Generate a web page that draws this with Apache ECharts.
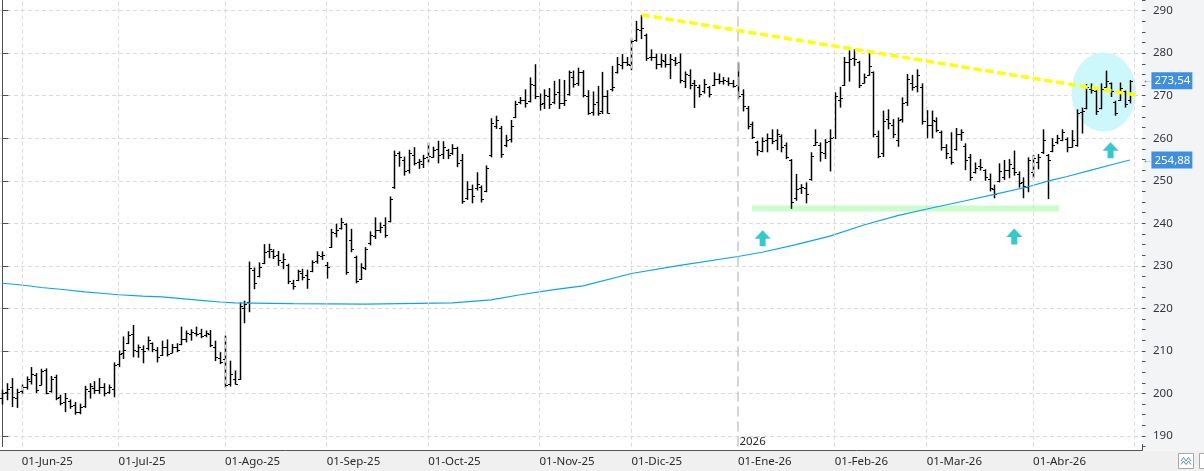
<!DOCTYPE html>
<html>
<head>
<meta charset="utf-8">
<script src="https://cdn.jsdelivr.net/npm/echarts@6/dist/echarts.min.js"></script>
<style>
  html, body { margin: 0; padding: 0; background: #fff; }
  #chart { width: 1204px; height: 471px; }
</style>
</head>
<body>
<div id="chart"></div>
<script>
// daily bars, one row per session: [open, high, low, close]
const may25 = [
  [199.0, 200.9, 197.4, 200.1], [200.3, 202.4, 198.4, 201.0], [201.5, 203.6, 196.8, 199.2], [199.0, 201.1, 196.6, 200.4]
];
const jun25 = [
  [200.5, 202.1, 199.9, 201.6], [201.6, 204.0, 200.9, 203.3], [203.0, 206.2, 202.1, 204.6], [204.4, 204.8, 200.1, 200.8],
  [202.0, 205.8, 201.9, 205.2], [205.4, 205.9, 199.8, 200.2], [200.5, 204.1, 200.2, 203.3], [203.8, 204.4, 198.4, 198.9],
  [199.2, 199.7, 197.2, 197.7], [197.9, 200.1, 195.6, 199.0], [198.3, 198.6, 196.4, 197.0], [197.2, 198.0, 195.0, 195.6],
  [195.6, 197.6, 195.1, 196.8], [197.0, 201.8, 196.6, 201.0], [200.6, 202.4, 198.8, 201.7], [201.3, 202.9, 199.9, 200.7],
  [200.7, 203.6, 199.9, 201.6], [201.5, 202.4, 199.3, 200.2], [200.4, 202.1, 199.9, 201.5], [201.0, 207.3, 199.1, 206.7]
];
const jul25 = [
  [207.0, 210.1, 206.2, 209.2], [209.5, 213.4, 208.1, 210.3], [211.8, 214.6, 211.6, 213.8], [213.9, 216.1, 208.5, 210.2],
  [210.0, 211.5, 208.4, 210.8], [210.5, 211.3, 207.1, 210.0], [210.6, 213.4, 210.1, 212.5], [211.8, 212.0, 209.7, 210.4],
  [210.2, 210.9, 207.3, 208.5], [209.0, 212.4, 208.8, 211.0], [210.8, 212.7, 208.7, 209.2], [209.6, 211.6, 209.5, 210.8],
  [210.9, 211.8, 209.7, 210.2], [211.6, 215.7, 211.3, 212.8], [212.9, 214.8, 212.0, 214.2], [214.0, 215.1, 212.4, 214.5],
  [214.3, 215.7, 213.4, 214.0], [214.1, 215.2, 213.0, 213.6], [213.8, 214.8, 213.2, 214.2], [214.0, 214.9, 210.9, 211.5],
  [211.0, 212.4, 207.6, 208.5], [208.3, 209.7, 206.9, 207.5]
];
const aug25 = [
  [208.0, 213.6, 201.3, 202.0], [202.3, 207.7, 201.6, 204.5], [203.5, 205.4, 202.1, 202.3], [203.5, 221.4, 203.2, 220.6],
  [220.0, 221.8, 216.5, 221.0], [221.5, 231.0, 219.1, 229.6], [229.0, 229.6, 224.5, 226.0], [227.5, 230.8, 227.3, 229.8],
  [230.6, 235.1, 230.4, 233.2], [233.5, 235.2, 231.8, 234.0], [233.6, 233.9, 231.6, 232.4], [232.5, 233.5, 230.0, 231.3],
  [231.0, 232.9, 229.2, 231.6], [230.2, 230.5, 225.7, 226.4], [226.0, 226.7, 224.4, 225.3], [226.6, 229.1, 226.4, 228.7],
  [228.2, 229.3, 226.6, 227.4], [227.8, 229.1, 224.6, 227.0], [228.8, 231.3, 228.5, 230.8], [231.2, 233.4, 230.5, 232.6],
  [232.3, 233.4, 231.4, 232.6]
];
const sep25 = [
  [230.2, 230.9, 227.0, 229.8], [234.5, 238.7, 234.2, 238.0], [237.8, 239.9, 236.7, 238.5], [239.0, 241.3, 238.5, 240.2],
  [239.8, 240.0, 227.9, 228.5], [236.0, 238.7, 233.2, 234.0], [232.0, 232.4, 225.9, 226.5], [227.0, 230.6, 226.7, 229.8],
  [229.5, 234.4, 229.0, 234.0], [235.3, 238.1, 234.8, 237.3], [237.0, 241.4, 236.3, 238.5], [238.5, 240.2, 237.7, 239.2],
  [239.5, 241.4, 236.6, 237.2], [240.5, 246.3, 240.2, 245.6], [248.5, 257.1, 248.1, 256.0], [256.5, 256.9, 253.3, 255.5],
  [254.8, 255.7, 251.2, 252.2], [252.5, 257.3, 251.7, 256.5], [256.0, 257.9, 253.6, 254.1], [254.3, 255.1, 252.8, 254.6],
  [254.0, 256.1, 253.0, 255.4]
];
const oct25 = [
  [255.5, 259.0, 254.3, 255.8], [255.6, 258.0, 255.4, 257.3], [257.5, 259.4, 254.1, 256.0], [256.3, 259.3, 255.1, 258.0],
  [257.2, 257.5, 255.1, 256.0], [256.5, 258.6, 256.1, 257.8], [257.7, 258.0, 253.2, 254.2], [255.0, 256.3, 244.6, 245.2],
  [246.0, 249.9, 245.5, 248.0], [248.0, 249.1, 244.7, 246.5], [248.2, 252.0, 247.7, 249.3], [248.5, 248.9, 244.9, 245.8],
  [247.5, 253.6, 247.3, 253.0], [256.0, 264.7, 255.5, 263.5], [262.8, 265.3, 262.2, 264.2], [262.5, 262.9, 255.4, 256.3],
  [258.5, 260.8, 257.9, 259.5], [259.8, 264.3, 259.0, 262.8], [265.0, 268.8, 264.7, 268.0], [268.5, 269.7, 268.0, 269.0],
  [269.0, 271.5, 267.2, 268.2], [268.8, 274.3, 268.4, 272.8], [272.5, 277.4, 269.2, 270.0]
];
const nov25 = [
  [270.0, 270.5, 266.5, 268.0], [268.3, 271.5, 266.9, 270.2], [270.0, 271.8, 266.9, 268.0], [268.5, 273.5, 268.0, 270.5],
  [270.8, 273.9, 266.9, 268.2], [268.4, 273.7, 267.6, 269.0], [270.5, 275.9, 270.0, 275.5], [274.5, 275.9, 271.9, 272.7],
  [273.0, 276.6, 272.3, 275.5], [275.5, 276.0, 269.6, 270.2], [270.0, 271.3, 265.5, 266.0], [266.2, 271.0, 265.3, 268.0],
  [268.5, 272.3, 265.3, 266.0], [266.3, 275.6, 265.7, 270.0], [270.0, 271.3, 265.8, 266.0], [271.5, 277.0, 271.0, 272.0],
  [275.5, 279.1, 275.2, 277.5], [277.2, 279.8, 276.2, 278.0], [278.0, 279.1, 277.0, 277.5]
];
const dec25 = [
  [277.2, 283.5, 276.0, 282.8], [283.0, 287.6, 282.7, 285.7], [285.5, 289.0, 283.3, 286.0], [284.3, 284.6, 278.2, 278.8],
  [279.0, 280.9, 278.2, 279.2], [279.0, 279.9, 276.2, 277.5], [277.5, 279.9, 276.6, 278.5], [278.2, 279.8, 276.6, 277.4],
  [277.5, 279.8, 273.9, 278.6], [278.5, 279.1, 277.0, 277.8], [278.0, 279.9, 272.9, 273.8], [273.5, 275.7, 271.8, 275.0],
  [274.8, 276.2, 271.5, 272.5], [273.0, 273.7, 267.1, 272.4], [272.0, 272.6, 269.6, 270.5], [271.0, 273.9, 270.5, 272.7],
  [272.0, 272.3, 269.6, 270.5], [272.6, 275.5, 272.3, 274.0], [274.0, 275.2, 272.7, 273.5], [273.4, 274.4, 272.6, 273.6],
  [273.5, 274.3, 272.3, 273.0], [273.0, 273.7, 271.9, 272.2]
];
const jan26 = [
  [272.5, 277.8, 269.2, 270.0], [270.5, 271.5, 266.3, 267.5], [267.0, 267.6, 262.1, 262.8], [263.3, 263.9, 259.8, 260.2],
  [259.0, 259.4, 255.9, 257.2], [257.0, 260.2, 256.7, 259.3], [259.5, 261.1, 256.7, 260.0], [260.0, 262.1, 258.6, 259.3],
  [259.5, 262.1, 257.2, 261.0], [260.5, 260.9, 256.7, 258.0], [258.3, 259.0, 255.1, 255.6], [254.8, 255.1, 243.4, 245.0],
  [246.0, 251.6, 245.3, 248.0], [248.3, 249.2, 246.9, 248.5], [248.2, 249.6, 244.7, 247.0], [250.5, 256.7, 250.0, 255.8],
  [258.3, 262.1, 258.2, 259.0], [258.5, 259.0, 254.5, 256.8], [256.5, 259.8, 255.1, 259.0], [259.3, 262.1, 252.2, 260.0]
];
const feb26 = [
  [260.2, 270.8, 259.8, 270.0], [269.0, 272.1, 267.2, 269.5], [272.6, 279.1, 272.3, 278.0], [278.0, 280.7, 273.3, 278.6],
  [278.8, 280.9, 277.0, 278.6], [278.0, 278.2, 271.8, 272.6], [273.0, 275.2, 272.9, 274.5], [274.9, 280.4, 274.7, 277.0],
  [275.5, 275.7, 260.2, 261.0], [260.5, 261.8, 255.3, 255.8], [256.5, 266.5, 255.6, 264.0], [264.5, 266.8, 262.1, 263.5],
  [263.0, 264.5, 260.0, 261.0], [259.5, 264.9, 258.0, 264.2], [264.5, 269.6, 263.7, 268.3], [268.5, 275.1, 267.6, 274.0],
  [273.0, 274.9, 271.2, 272.0], [272.3, 276.2, 270.8, 274.8], [272.0, 272.9, 263.2, 264.0]
];
const mar26 = [
  [264.0, 266.6, 260.0, 263.0], [263.2, 266.5, 260.0, 264.3], [264.0, 264.9, 261.4, 262.0], [261.4, 261.8, 257.1, 258.0],
  [258.0, 258.6, 255.1, 256.6], [255.6, 261.4, 253.8, 254.5], [257.5, 262.4, 257.1, 261.0], [261.0, 262.1, 259.4, 261.5],
  [258.2, 258.8, 252.5, 255.0], [255.5, 256.3, 250.0, 251.0], [252.0, 254.3, 251.7, 253.0], [253.5, 255.1, 252.4, 253.2],
  [252.5, 252.7, 250.0, 251.0], [250.5, 251.7, 247.5, 248.2], [248.0, 249.1, 245.9, 247.0], [250.0, 254.1, 249.6, 252.2],
  [251.0, 254.9, 250.2, 252.5], [252.5, 255.1, 250.6, 254.0], [253.0, 257.1, 251.2, 252.0], [251.5, 252.2, 248.4, 249.5],
  [249.8, 250.8, 245.9, 248.8], [248.5, 255.5, 247.3, 254.9]
];
const apr26 = [
  [252.0, 256.1, 250.6, 255.4], [254.5, 256.3, 252.7, 255.7], [256.8, 262.1, 256.3, 259.5], [256.0, 256.3, 245.7, 255.0],
  [257.0, 260.0, 256.7, 258.5], [259.0, 260.8, 258.6, 260.0], [259.5, 262.1, 259.3, 261.5], [259.8, 260.2, 256.7, 258.0],
  [258.0, 261.9, 257.8, 259.6], [258.5, 266.8, 258.0, 266.0], [266.2, 267.2, 261.1, 266.5], [267.0, 272.7, 266.8, 272.0],
  [271.5, 272.9, 270.5, 271.3], [271.0, 271.9, 265.5, 266.5], [267.0, 272.9, 266.8, 271.5], [272.0, 275.9, 271.9, 273.5],
  [273.0, 273.1, 269.7, 271.0], [268.5, 268.8, 265.3, 266.0], [269.0, 273.1, 268.8, 271.8], [271.0, 271.2, 267.2, 268.0],
  [269.0, 273.7, 268.2, 273.54]
];
const bars = [].concat(may25, jun25, jul25, aug25, sep25, oct25, nov25, dec25, jan26, feb26, mar26, apr26);

// month ticks (bar index of the first session) and their labels
const tickLabels = ['01-Jun-25', '01-Jul-25', '01-Ago-25', '01-Sep-25', '01-Oct-25', '01-Nov-25',
  '01-Dic-25', '01-Ene-26', '01-Feb-26', '01-Mar-26', '01-Abr-26', ''];
const tickIndex = [4, 24, 46, 67, 88, 111, 130, 152, 172, 191, 213, 234];
const yearIndex = 152;
const yearLabel = '2026';

// long moving average, read at some bars
const maIndex = [0, 4, 8, 12, 17, 21, 24, 29, 33, 37, 41, 45, 48, 60, 75, 93, 101, 107, 114, 120,
  130, 140, 152, 157, 164, 171, 178, 185, 192, 199, 205, 212, 216, 220, 225, 229, 233];
const maValue = [225.9, 225.5, 224.9, 224.5, 223.9, 223.5, 223.2, 222.9, 222.7, 222.3, 221.9, 221.5, 221.3, 221.1, 221.0, 221.3, 222.0, 223.2, 224.4, 225.3,
  228.2, 230.1, 232.2, 233.2, 235.0, 237.0, 239.6, 241.8, 243.6, 245.3, 246.8, 248.6, 249.9, 251.0, 252.5, 253.7, 254.88];

// hand drawn studies (bar index, price)
const trendLine = [[132.1, 289.0], [234.1, 270.2]];
const supportLine = [[154.9, 243.5], [218.3, 243.5]];
const arrowMarks = [[157.1, 236.5], [209.1, 236.9], [229.0, 257.2]];
const circleMark = [[227.6, 270.85]];

const slots = 236;
const font = 'Noto Sans';
const categories = Array.from({ length: slots }, (_, i) => String(i));
const labelOf = {};
tickIndex.forEach((t, k) => { labelOf[t] = tickLabels[k]; });
const fmtNum = v => v.toFixed(2).replace('.', ',');
const lastIdx = bars.length - 1;

function renderBar(params, api) {
  const i = api.value(0);
  const x = Math.round(api.coord([i, 250])[0]) + 0.5;
  const yo = Math.round(api.coord([i, api.value(1)])[1]) + 0.5;
  const yh = api.coord([i, api.value(2)])[1];
  const yl = api.coord([i, api.value(3)])[1];
  const yc = Math.round(api.coord([i, api.value(4)])[1]) + 0.5;
  const st = { stroke: '#000', lineWidth: 1 };
  return {
    type: 'group',
    children: [
      { type: 'line', shape: { x1: x, y1: yh, x2: x, y2: yl }, style: { stroke: '#000', lineWidth: 1.5 } },
      { type: 'line', shape: { x1: x - 2.5, y1: yo, x2: x, y2: yo }, style: st },
      { type: 'line', shape: { x1: x, y1: yc, x2: x + 2.5, y2: yc }, style: st }
    ]
  };
}

const chart = echarts.init(document.getElementById('chart'));
chart.setOption({
  animation: false,
  backgroundColor: '#fff',
  textStyle: { fontFamily: font },
  grid: { left: -3.33, right: 62, top: -0.96, bottom: 24.4 },
  xAxis: [{
    type: 'category',
    data: categories,
    boundaryGap: true,
    offset: 3.4,
    axisLine: { lineStyle: { color: '#555' } },
    axisTick: { alignWithLabel: true, length: 9, interval: i => i in labelOf, lineStyle: { color: '#555' } },
    axisLabel: {
      interval: i => !!labelOf[i],
      formatter: (v, i) => labelOf[i] || '',
      align: 'left', margin: 6, color: '#2a2a2a', fontSize: 11.5, fontFamily: font
    },
    splitLine: { show: false }
  }, {
    type: 'value', min: -0.5, max: slots - 0.5, show: false
  }],
  yAxis: [{
    type: 'value', position: 'right', min: 187.5, max: 292.5, splitNumber: 10,
    axisLine: { show: true, lineStyle: { color: '#505050' } },
    axisTick: { show: true, length: 6, lineStyle: { color: '#505050' } },
    axisLabel: { margin: 11, color: '#33333f', fontSize: 11.5, fontFamily: font, showMinLabel: false, showMaxLabel: false },
    splitLine: { show: true, showMinLine: false, showMaxLine: false, lineStyle: { color: '#dadada', type: [4, 3] } }
  }, {
    type: 'value', position: 'right', min: 187.5, max: 292.5, interval: 2.5,
    axisLine: { show: false },
    axisTick: { show: true, length: 3.5, lineStyle: { color: '#505050' } },
    axisLabel: { show: false },
    splitLine: { show: false }
  }],
  series: [
    {
      // month grid lines and the year separator, kept under every mark
      type: 'line', xAxisIndex: 0, yAxisIndex: 0, silent: true, z: 0.5,
      data: [],
      markLine: {
        silent: true, symbol: 'none', label: { show: false },
        lineStyle: { color: '#dadada', type: [4, 3], width: 1 },
        data: tickIndex.filter(i => i !== yearIndex).map(i => ({ xAxis: i })).concat([
          { xAxis: yearIndex, lineStyle: { color: '#c8c8c8', type: [10, 5], width: 1.5 } }
        ])
      }
    },
    {
      type: 'scatter', xAxisIndex: 1, yAxisIndex: 0, silent: true, z: 1,
      symbol: 'circle', symbolSize: [64.5, 79.5],
      itemStyle: { color: '#cdf8fb', opacity: 1 },
      data: circleMark
    },
    {
      type: 'line', xAxisIndex: 1, yAxisIndex: 0, silent: true, z: 1,
      symbol: 'none', lineStyle: { color: '#ccfccc', width: 6, cap: 'butt' },
      data: supportLine
    },
    {
      type: 'custom', xAxisIndex: 0, yAxisIndex: 0, silent: true, z: 3,
      renderItem: renderBar,
      encode: { x: 0, y: [1, 2, 3, 4] },
      data: bars.map((b, i) => [i, b[0], b[1], b[2], b[3]])
    },
    {
      type: 'line', xAxisIndex: 0, yAxisIndex: 0, silent: true, z: 4, clip: false,
      symbol: 'none', lineStyle: { color: '#0aa6ea', width: 1.2 },
      data: maIndex.map((i, k) => [i, maValue[k]]),
      markPoint: {
        silent: true, symbol: 'circle', symbolSize: 1,
        itemStyle: { color: 'rgba(0,0,0,0)' },
        label: {
          show: true, position: 'right', distance: 12,
          formatter: p => '{a|←}{b|' + p.name + '}',
          rich: {
            a: { fontSize: 10, color: '#666', width: 9, fontFamily: font },
            b: { backgroundColor: '#3d8fe3', color: '#fff', fontSize: 11.5, fontFamily: font, padding: [3, 2, 2, 3], lineHeight: 14 }
          }
        },
        data: [
          { name: fmtNum(bars[lastIdx][3]), coord: [lastIdx, bars[lastIdx][3]] },
          { name: fmtNum(maValue[maValue.length - 1]), coord: [lastIdx, maValue[maValue.length - 1]] },
          {
            name: yearLabel, coord: [yearIndex, 188.6],
            label: { formatter: '{c|' + yearLabel + '}', distance: 1, rich: { c: { fontSize: 11.5, color: '#2a2a2a', fontFamily: font } } }
          }
        ]
      }
    },
    {
      type: 'line', xAxisIndex: 1, yAxisIndex: 0, silent: true, z: 5,
      symbol: 'none', lineStyle: { color: '#ffff00', width: 3.5, type: [8, 4], cap: 'butt' },
      data: trendLine
    },
    {
      type: 'scatter', xAxisIndex: 1, yAxisIndex: 0, silent: true, z: 6,
      symbol: 'path://M8,0L16,8.5L11,8.5L11,16L5,16L5,8.5L0,8.5Z', symbolSize: [16, 16],
      itemStyle: { color: '#36c9cc', opacity: 1 },
      data: arrowMarks
    }
  ],
  graphic: [
    { type: 'rect', z: -1, silent: true, shape: { x: 0, y: 450.5, width: 1204, height: 21 }, style: { fill: '#f0f0f0' } },
    { type: 'rect', z: -1, silent: true, shape: { x: 1142.5, y: 0, width: 62, height: 450.5 }, style: { fill: '#f3f4f6' } },
    { type: 'line', silent: true, shape: { x1: 1142.5, y1: 444, x2: 1142.5, y2: 450.5 }, style: { stroke: '#505050', lineWidth: 1 } },
    { type: 'rect', silent: true, shape: { x: 1178.5, y: 453.5, width: 15, height: 15 }, style: { fill: '#fff', stroke: '#a8a8a8', lineWidth: 1 } },
    { type: 'polyline', silent: true, shape: { points: [[1181, 461], [1183.5, 457.5], [1186, 461], [1188.5, 457.5], [1191, 461]] }, style: { stroke: '#4a90d9', fill: null, lineWidth: 1 } },
    { type: 'polyline', silent: true, shape: { points: [[1181, 464.5], [1183.5, 461], [1186, 464.5], [1188.5, 461], [1191, 464.5]] }, style: { stroke: '#4a90d9', fill: null, lineWidth: 1 } },
    { type: 'rect', silent: true, shape: { x: 1199.5, y: 453.5, width: 15, height: 15 }, style: { fill: '#fff', stroke: '#a8a8a8', lineWidth: 1 } }
  ]
});
</script>
</body>
</html>
